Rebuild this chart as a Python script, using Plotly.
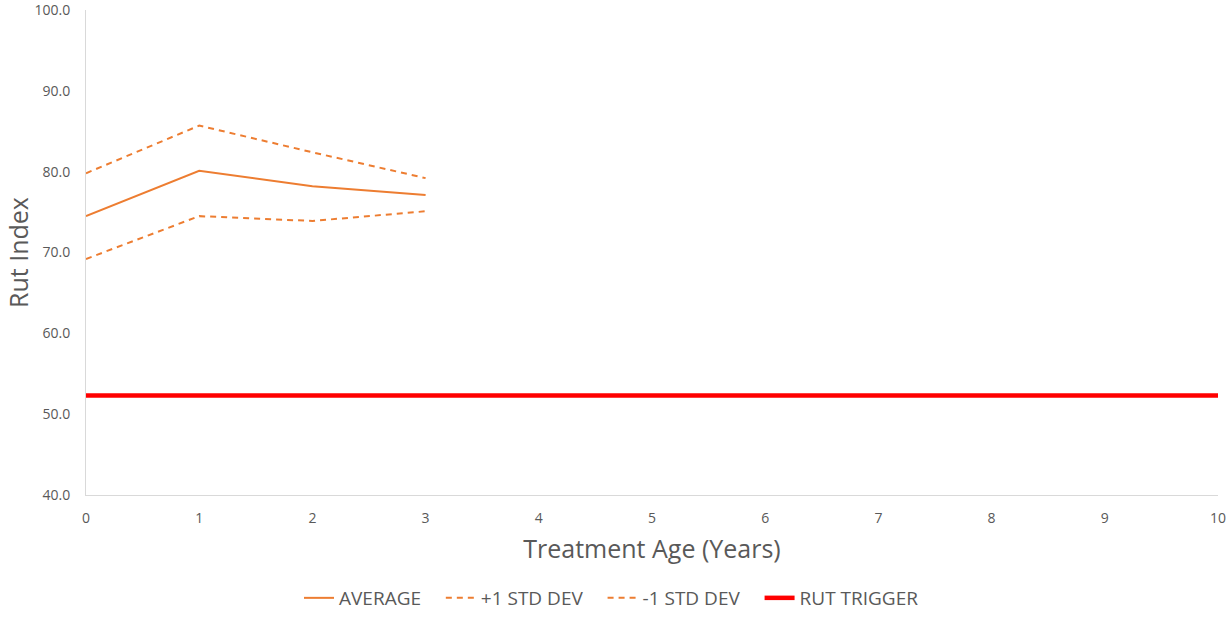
import plotly.graph_objects as go

years = [0, 1, 2, 3]
average = [74.5, 80.1, 78.2, 77.1]
plus_std = [79.8, 85.7, 82.4, 79.2]
minus_std = [69.2, 74.5, 73.9, 75.1]
trigger_years = [0, 10]
trigger_value = [52.3, 52.3]

PAD = "\u00a0\u00a0\u00a0"
orange = "#ED7D31"
fig = go.Figure()
fig.add_trace(go.Scatter(x=years, y=average, mode="lines", name="AVERAGE" + PAD,
                         line=dict(color=orange, width=2)))
fig.add_trace(go.Scatter(x=years, y=plus_std, mode="lines", name="+1 STD DEV" + PAD,
                         line=dict(color=orange, width=2, dash="6px,5px")))
fig.add_trace(go.Scatter(x=years, y=minus_std, mode="lines", name="-1 STD DEV" + PAD,
                         line=dict(color=orange, width=2, dash="6px,5px")))
fig.add_trace(go.Scatter(x=trigger_years, y=trigger_value, mode="lines", name="RUT TRIGGER",
                         line=dict(color="#FF0000", width=4.5)))

fig.update_layout(
    width=1229, height=617,
    margin=dict(l=86, r=11, t=9.5, b=122, autoexpand=False),
    paper_bgcolor="white", plot_bgcolor="white",
    font=dict(family="Open Sans", color="#595959"),
    showlegend=True,
    legend=dict(orientation="h", xref="container", yref="container",
                x=299 / 1229, xanchor="left", y=(617 - 598) / 617, yanchor="middle",
                font=dict(size=19, color="#595959"), traceorder="normal",
                itemwidth=30),
    xaxis=dict(range=[0, 10], tickmode="array", tickvals=list(range(11)),
               showgrid=False, zeroline=False, showline=True, linecolor="#D9D9D9",
               linewidth=1, ticks="", tickfont=dict(size=14, color="#595959"),
               ticklabelstandoff=10, automargin=False, ticklabeloverflow="allow",
               title=dict(text="Treatment Age (Years)", font=dict(size=25, color="#595959"),
                          standoff=14)),
    yaxis=dict(range=[40, 100], tickmode="array", tickvals=[40, 50, 60, 70, 80, 90, 100],
               ticktext=["40.0", "50.0", "60.0", "70.0", "80.0", "90.0", "100.0"],
               showgrid=False, zeroline=False, showline=True, linecolor="#D9D9D9",
               linewidth=1, ticks="", tickfont=dict(size=14, color="#595959"),
               ticklabelstandoff=12, automargin=False, ticklabeloverflow="allow"),
    annotations=[dict(text="Rut Index", textangle=-90, showarrow=False,
                      xref="paper", yref="paper", x=(17.5 - 86) / 1132, y=0.5,
                      xanchor="center", yanchor="middle",
                      font=dict(size=25, color="#595959"))],
)
fig.write_html("out.html", config={"displayModeBar": False},
               post_script="document.body.style.margin='0';")
